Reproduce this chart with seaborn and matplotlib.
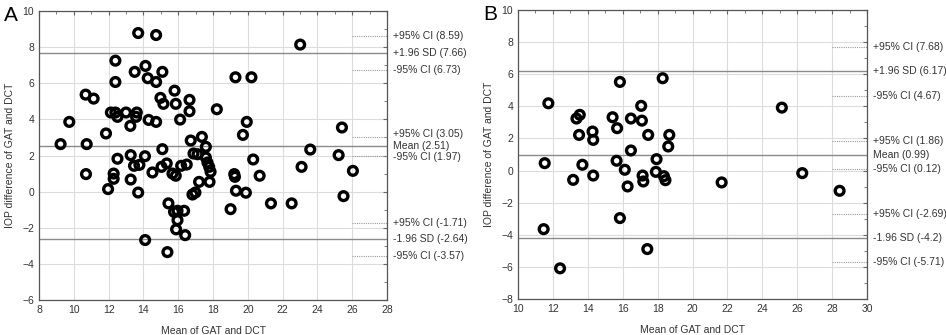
import numpy as np
import pandas as pd
import matplotlib
matplotlib.use("Agg")
import matplotlib.pyplot as plt
from matplotlib.ticker import MultipleLocator
import seaborn as sns

sns.set_style("white")
plt.rcParams['font.family'] = ['Liberation Sans', 'DejaVu Sans']

# Panel A data
a_mean = [13.70, 14.73, 23.01, 12.39, 12.39, 13.50, 14.12, 14.25, 14.73, 15.09, 19.29, 20.21,
          10.68, 11.14, 15.79, 14.98, 15.15, 15.86, 16.65, 16.65, 18.22, 9.74, 12.13, 12.39,
          12.51, 13.00, 13.62, 13.58, 13.25, 14.30, 14.73, 16.11, 19.94, 19.72, 11.85, 9.24,
          10.74, 17.36, 16.72, 17.59, 15.09, 16.88, 17.11, 17.59, 17.68, 17.78, 17.86, 17.80,
          17.20, 23.59, 25.22, 25.41, 23.09, 26.04, 25.50, 20.31, 20.68, 19.22, 19.26, 19.32,
          19.89, 19.01, 21.33, 22.52, 12.51, 13.27, 13.46, 13.77, 14.09, 14.52, 15.04, 15.34,
          15.67, 15.86, 16.17, 16.49, 10.70, 12.29, 12.29, 13.27, 11.97, 13.70, 16.82, 16.99,
          15.44, 15.76, 15.96, 16.34, 15.96, 15.88, 16.40, 14.10, 15.38]
a_diff = [8.78, 8.67, 8.14, 7.25, 6.07, 6.63, 6.96, 6.28, 6.07, 6.63, 6.33, 6.33,
          5.37, 5.15, 5.59, 5.19, 4.86, 4.86, 5.08, 4.45, 4.56, 3.86, 4.38, 4.38,
          4.14, 4.38, 4.38, 4.14, 3.64, 3.97, 3.86, 3.99, 3.86, 3.14, 3.22, 2.63,
          2.63, 3.03, 2.83, 2.48, 2.35, 2.11, 2.07, 1.89, 1.61, 1.37, 1.10, 0.54,
          0.54, 2.33, 2.02, 3.55, 1.37, 1.15, -0.25, 1.78, 0.88, 0.97, 0.82, 0.05,
          -0.06, -0.97, -0.65, -0.65, 1.82, 2.02, 1.43, 1.48, 1.96, 1.06, 1.37, 1.56,
          1.00, 0.88, 1.43, 1.50, 0.97, 1.00, 0.71, 0.67, 0.14, -0.05, -0.16, -0.05,
          -0.65, -1.12, -1.06, -1.06, -1.58, -2.09, -2.41, -2.68, -3.35]
a_lines = [7.66, 2.51, -2.64]
a_ci = [8.59, 6.73, 3.05, 1.97, -1.71, -3.57]
a_labels = ["+95% CI (8.59)", "+1.96 SD (7.66)", "-95% CI (6.73)",
            "+95% CI (3.05)", "Mean (2.51)", "-95% CI (1.97)",
            "+95% CI (-1.71)", "-1.96 SD (-2.64)", "-95% CI (-3.57)"]
a_label_y = [8.59, 7.66, 6.73, 3.05, 2.51, 1.97, -1.71, -2.64, -3.57]

# Panel B data
b_mean = [11.74, 11.53, 11.47, 12.41, 13.54, 13.35, 13.50, 13.69, 13.16, 14.27, 14.31, 14.31,
          15.42, 15.68, 15.84, 15.65, 16.12, 16.28, 15.84, 16.47, 16.47, 17.06, 17.10, 17.46,
          17.14, 17.18, 17.41, 18.29, 18.67, 18.61, 17.94, 17.90, 18.36, 18.45, 21.67, 25.12,
          26.29, 28.43]
b_diff = [4.19, 0.46, -3.65, -6.09, 3.47, 3.24, 2.22, 0.36, -0.58, 2.43, 1.91, -0.31,
          3.32, 2.64, 5.52, 0.61, 0.05, -0.99, -2.96, 3.24, 1.25, 4.03, 3.11, 2.22,
          -0.31, -0.68, -4.89, 5.75, 2.22, 1.50, 0.71, -0.08, -0.35, -0.60, -0.74, 3.92,
          -0.16, -1.26]
b_lines = [6.17, 0.99, -4.2]
b_ci = [7.68, 4.67, 1.86, 0.12, -2.69, -5.71]
b_labels = ["+95% CI (7.68)", "+1.96 SD (6.17)", "-95% CI (4.67)",
            "+95% CI (1.86)", "Mean (0.99)", "-95% CI (0.12)",
            "+95% CI (-2.69)", "-1.96 SD (-4.2)", "-95% CI (-5.71)"]
b_label_y = [7.68, 6.17, 4.67, 1.86, 0.99, 0.12, -2.69, -4.2, -5.71]

fig = plt.figure(figsize=(9.46, 3.35), dpi=100)
axA = fig.add_axes([39/946, 1-300/335, (387-39)/946, (300-11)/335])
axB = fig.add_axes([518/946, 1-299/335, (867-518)/946, (299-10)/335])

def draw(ax, xs, ys, lines, ci, labels, label_y, xlim, ylim, ci_x0, letter, nudge):
    df = pd.DataFrame({"x": xs, "y": ys})
    ax.set_xlim(*xlim)
    ax.set_ylim(*ylim)
    ax.xaxis.set_major_locator(MultipleLocator(2))
    ax.yaxis.set_major_locator(MultipleLocator(2))
    ax.xaxis.set_minor_locator(MultipleLocator(1))
    ax.yaxis.set_minor_locator(MultipleLocator(1))
    ax.grid(True, which='major', color='#dcdcdc', linewidth=0.8, zorder=0)
    for v in lines:
        ax.axhline(v, color='#8a8a8a', linewidth=1.0, zorder=1)
    for v in ci:
        ax.plot([ci_x0, xlim[1]], [v, v], color='#9a9a9a', linewidth=0.8,
                linestyle=(0, (1, 1)), zorder=1, clip_on=False)
    sns.scatterplot(data=df, x="x", y="y", ax=ax, s=40, marker='o',
                    facecolors='none', edgecolors='black', linewidths=2.4, zorder=3)
    for lab, yv, dn in zip(labels, label_y, nudge):
        ax.annotate(lab, xy=(1.0, yv + dn), xycoords=('axes fraction', 'data'),
                    xytext=(4, 0), textcoords='offset points', va='center', ha='left',
                    fontsize=7.5, color='#333333', annotation_clip=False)
    ax.set_xlabel("Mean of GAT and DCT", fontsize=7.5, color='#333333', labelpad=8)
    ax.set_ylabel("IOP difference of GAT and DCT", fontsize=7.5, color='#333333', labelpad=5)
    ax.tick_params(axis='both', which='both', direction='in', top=True, right=True,
                   labelsize=7.5, labelcolor='#333333', color='#666666')
    ax.tick_params(which='major', length=3)
    ax.tick_params(which='minor', length=2)
    for sp in ax.spines.values():
        sp.set_color('#555555')
        sp.set_linewidth(0.9)
    ax.text(-0.1, 0.985, letter, transform=ax.transAxes, fontsize=15,
            ha='left', va='center', color='black')

draw(axA, a_mean, a_diff, a_lines, a_ci, a_labels, a_label_y, (8, 28), (-6, 10), 26,
     "A", [0, 0, 0, 0.12, 0, -0.08, 0, 0, 0])
draw(axB, b_mean, b_diff, b_lines, b_ci, b_labels, b_label_y, (10, 30), (-8, 10), 28,
     "B", [0, 0, 0, 0, 0, 0, 0, 0, 0])

fig.savefig("out.png", dpi=100)
